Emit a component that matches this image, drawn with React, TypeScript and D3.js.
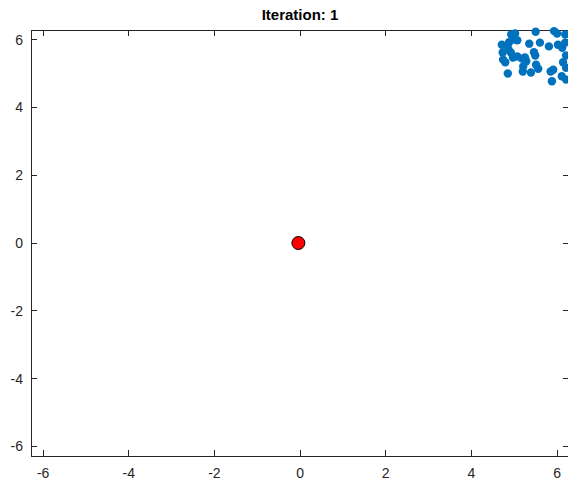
import React, { useEffect, useRef } from 'react';
import * as d3 from 'd3';

const titleText = 'Iteration: 1';
const ticks = [-6, -4, -2, 0, 2, 4, 6];

// blue cloud
const pointsX = [4.93, 5.02, 5.50, 5.93, 6.00, 6.19, 4.71, 4.88, 4.97, 5.07, 5.35, 5.60, 5.81, 6.02,
  6.12, 6.19, 4.73, 4.86, 4.92, 5.46, 4.74, 4.79, 4.97, 5.07, 5.18, 5.25, 5.28, 5.49, 6.21, 5.21,
  5.20, 5.51, 5.56, 5.85, 5.91, 6.14, 6.21, 4.85, 5.39, 5.88, 6.11, 6.21];
const pointsY = [6.15, 6.18, 6.23, 6.25, 6.18, 6.15, 5.85, 5.92, 6.00, 5.98, 5.88, 5.91, 5.80, 5.85,
  5.76, 5.91, 5.62, 5.73, 5.62, 5.63, 5.41, 5.33, 5.47, 5.50, 5.44, 5.47, 5.36, 5.53, 5.53, 5.21,
  5.06, 5.26, 5.14, 5.06, 5.11, 5.33, 5.17, 5.00, 5.03, 4.77, 4.92, 4.82];

// centroid
const centerX = [-0.04];
const centerY = [0];

const W = 568;
const H = 480;

export default function App() {
  const svgRef = useRef<SVGSVGElement>(null);

  useEffect(() => {
    if (!svgRef.current) return;
    const svg = d3.select(svgRef.current);
    svg.selectAll('*').remove();

    const lim = 2 * Math.PI;
    const x = d3.scaleLinear().domain([-lim, lim]).range([31, 569.2]);
    const y = d3.scaleLinear().domain([-lim, lim]).range([456, 30]);
    const axisColor = '#262626';
    const font = '"Liberation Sans", Arial, sans-serif';

    svg.append('rect').attr('width', W).attr('height', H).attr('fill', '#fff');

    // box
    svg.append('rect')
      .attr('x', x(-lim)).attr('y', y(lim))
      .attr('width', x(lim) - x(-lim)).attr('height', y(-lim) - y(lim))
      .attr('fill', 'none').attr('stroke', axisColor).attr('stroke-width', 1)
      .attr('shape-rendering', 'crispEdges');

    const tl = 6;
    const g = svg.append('g').attr('stroke', axisColor).attr('shape-rendering', 'crispEdges');
    ticks.forEach(t => {
      g.append('line').attr('x1', x(t)).attr('x2', x(t)).attr('y1', y(-lim)).attr('y2', y(-lim) - tl);
      g.append('line').attr('x1', x(t)).attr('x2', x(t)).attr('y1', y(lim)).attr('y2', y(lim) + tl);
      g.append('line').attr('y1', y(t)).attr('y2', y(t)).attr('x1', x(-lim)).attr('x2', x(-lim) + tl);
      g.append('line').attr('y1', y(t)).attr('y2', y(t)).attr('x1', x(lim)).attr('x2', x(lim) - tl);
    });

    svg.append('g').selectAll('text').data(ticks).enter().append('text')
      .attr('x', d => x(d)).attr('y', 478)
      .attr('text-anchor', 'middle')
      .attr('font-family', font).attr('font-size', 14).attr('fill', axisColor)
      .text(d => String(d));

    svg.append('g').selectAll('text').data(ticks).enter().append('text')
      .attr('x', 23).attr('y', d => y(d) + 5)
      .attr('text-anchor', 'end')
      .attr('font-family', font).attr('font-size', 14).attr('fill', axisColor)
      .text(d => String(d));

    svg.append('text')
      .attr('x', 300).attr('y', 20)
      .attr('text-anchor', 'middle')
      .attr('font-family', font).attr('font-size', 15).attr('font-weight', 'bold').attr('fill', '#000')
      .text(titleText);

    svg.append('g').selectAll('circle').data(pointsX).enter().append('circle')
      .attr('cx', d => x(d)).attr('cy', (d, i) => y(pointsY[i]))
      .attr('r', 4.2).attr('fill', '#0072BD');

    svg.append('g').selectAll('circle').data(centerX).enter().append('circle')
      .attr('cx', d => x(d)).attr('cy', (d, i) => y(centerY[i]))
      .attr('r', 6.5).attr('fill', '#ff0000').attr('stroke', '#000').attr('stroke-width', 1);
  }, []);

  return (
    <svg ref={svgRef} width={W} height={H}
      style={{ position: 'absolute', left: 0, top: 0, display: 'block' }} />
  );
}
